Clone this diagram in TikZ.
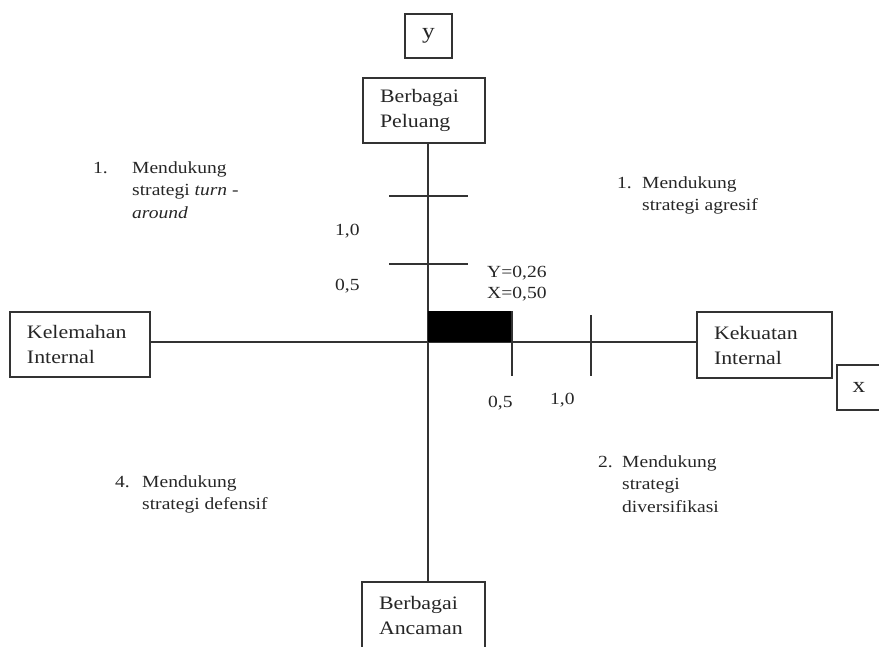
\documentclass[tikz,border=0pt]{standalone}
\usepackage{fontspec}
\setmainfont[FakeStretch=1.15]{Liberation Serif}
\begin{document}
\begin{tikzpicture}[x=1pt,y=-1pt,
  ln/.style={draw=black!80,line width=1.6pt},
  box/.style={draw=black!80,line width=1.6pt,rectangle,align=left,inner xsep=17pt,inner ysep=0pt,
     font=\fontsize{19}{25}\selectfont,text=black!85},
  lbl/.style={font=\fontsize{17}{21}\selectfont,text=black!85,inner sep=0pt,anchor=base west},
  quad/.style={font=\fontsize{17}{22.5}\selectfont,text=black!85,inner sep=0pt,anchor=base west}]
\useasboundingbox (0,0) rectangle (879,646);
% boxes
\node[box,minimum width=47pt,minimum height=44pt,inner xsep=0pt,align=center,font=\fontsize{22}{26}\selectfont] (ybox) at (428.5,36) {y};
\node[box,minimum width=122pt,minimum height=65pt,text width=88pt] (pel) at (424,110.5) {Berbagai\\Peluang};
\node[box,minimum width=123pt,minimum height=66pt,text width=89pt] (anc) at (423.5,615) {Berbagai\\Ancaman};
\node[box,minimum width=140pt,minimum height=65pt,text width=106pt] (kel) at (80,344.5) {Kelemahan\\Internal};
\node[box,minimum width=135pt,minimum height=66pt,text width=101pt] (kek) at (764.5,345) {Kekuatan\\Internal};
\node[box,minimum width=44pt,minimum height=45pt,inner xsep=0pt,align=center,font=\fontsize{22}{26}\selectfont] (xbox) at (859,387.5) {x};
% axes
\coordinate (O) at (428,342);
\draw[ln] (pel.south-|O) -- (anc.north-|O);
\draw[ln] (kel.east|-O) -- (kek.west|-O);
% ticks on y axis
\coordinate (ty1a) at (389,196); \coordinate (ty1b) at (468,196);
\coordinate (ty2a) at (389,264); \coordinate (ty2b) at (468,264);
\draw[ln] (ty1a) -- (ty1b);
\draw[ln] (ty2a) -- (ty2b);
% black rectangle and x ticks
\fill[black] (O) rectangle (512,311);
\draw[ln] (512,311) -- (512,376);
\draw[ln] (591,315) -- (591,376);
% labels
\node[lbl] (l10) at (335,235) {1,0};
\node[lbl] (l05) at (335,290) {0,5};
\node[lbl] (ly) at (487,277) {Y=0,26};
\node[lbl] (lx) at (487,298) {X=0,50};
\node[lbl] (b05) at (488,407) {0,5};
\node[lbl] (b10) at (550,404) {1,0};
% quadrant texts
\node[quad] (q1) at (93,173) {\begin{tabular}[t]{@{}l@{}l@{}}\makebox[39pt][l]{1.}&Mendukung\\ &strategi \textit{turn} -\\ &\textit{around}\end{tabular}};
\node[quad] (q2) at (617,188) {\begin{tabular}[t]{@{}l@{}l@{}}\makebox[25pt][l]{1.}&Mendukung\\ &strategi agresif\end{tabular}};
\node[quad] (q4) at (115,487) {\begin{tabular}[t]{@{}l@{}l@{}}\makebox[27pt][l]{4.}&Mendukung\\ &strategi defensif\end{tabular}};
\node[quad] (q3) at (598,467) {\begin{tabular}[t]{@{}l@{}l@{}}\makebox[24pt][l]{2.}&Mendukung\\ &strategi\\ &diversifikasi\end{tabular}};
\end{tikzpicture}
\end{document}
